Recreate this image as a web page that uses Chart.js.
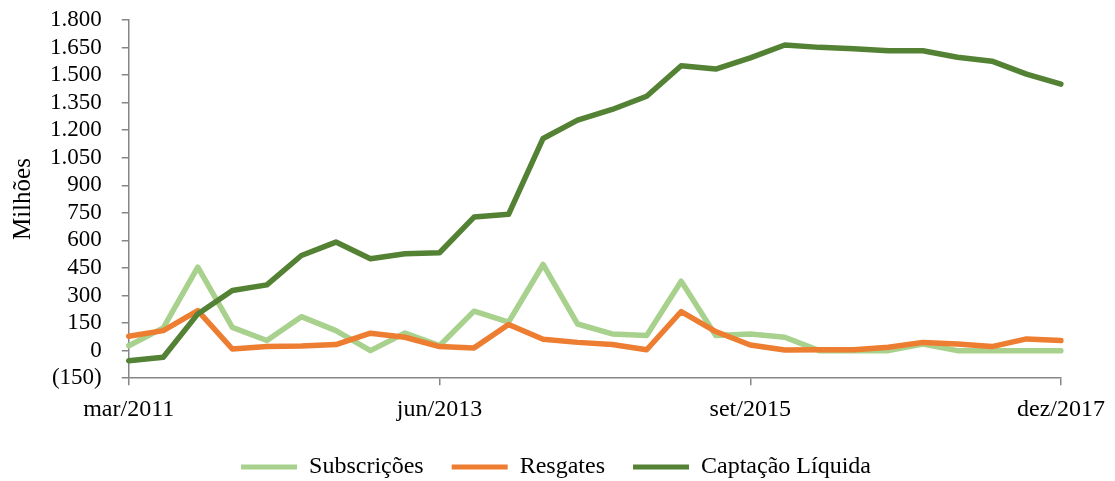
<!DOCTYPE html>
<html>
<head>
<meta charset="utf-8">
<script src="https://cdn.jsdelivr.net/npm/chart.js@4/dist/chart.umd.min.js"></script>
<style>
  html, body { margin: 0; padding: 0; background: #fff; }
  #wrap { width: 1115px; height: 481px; }
</style>
</head>
<body>
<div id="wrap"><canvas id="fundChart"></canvas></div>
<script>
// quarterly, mar/2011 .. dez/2017 (millions)
let quarters = [
    "mar/2011", "jun/2011", "set/2011", "dez/2011",
    "mar/2012", "jun/2012", "set/2012", "dez/2012",
    "mar/2013", "jun/2013", "set/2013", "dez/2013",
    "mar/2014", "jun/2014", "set/2014", "dez/2014",
    "mar/2015", "jun/2015", "set/2015", "dez/2015",
    "mar/2016", "jun/2016", "set/2016", "dez/2016",
    "mar/2017", "jun/2017", "set/2017", "dez/2017"
];
let shownLabels = ["mar/2011", "jun/2013", "set/2015", "dez/2017"];

let subscricoes = [27, 124, 455, 127, 55, 185, 109, 0, 96, 27, 215, 155, 469, 145,
                   91, 82, 378, 82, 91, 73, 0, 0, 0, 36, 0, 0, 0, 0];
let resgates = [78, 109, 218, 9, 22, 25, 33, 95, 73, 22, 15, 142, 62, 45,
                33, 5, 213, 104, 31, 4, 5, 5, 18, 45, 36, 22, 64, 55];
let captacao = [-55, -36, 200, 327, 358, 518, 591, 500, 527, 533, 727, 742, 1155, 1255,
                1313, 1385, 1551, 1533, 1594, 1664, 1651, 1644, 1633, 1633, 1597, 1576, 1505, 1451];

let yTicks = { min: -150, max: 1800, step: 150 };

const axisGray = '#868686';
const serif = "'Liberation Serif', 'DejaVu Serif', serif";

function fmtNumber(v) {
    if (v < 0) return '(' + fmtNumber(-v) + ')';
    return String(v).replace(/\B(?=(\d{3})+(?!\d))/g, '.');
}

Chart.defaults.font.family = serif;
Chart.defaults.color = '#000';

async function displayChart() {
    new Chart(
        document.getElementById('fundChart'),
        {
            type: 'line',
            data: {
                labels: quarters,
                datasets: [
                    {
                        label: 'Subscrições',
                        data: subscricoes,
                        borderColor: '#A9D18E',
                        backgroundColor: '#A9D18E',
                        order: 3,
                    },
                    {
                        label: 'Resgates',
                        data: resgates,
                        borderColor: '#ED7D31',
                        backgroundColor: '#ED7D31',
                        order: 2,
                    },
                    {
                        label: 'Captação Líquida',
                        data: captacao,
                        borderColor: '#548235',
                        backgroundColor: '#548235',
                        order: 1,
                    }
                ]
            },
            options: {
                responsive: true,
                maintainAspectRatio: false,
                animation: false,
                elements: {
                    line: { borderWidth: 5.5, tension: 0, borderJoinStyle: 'round', borderCapStyle: 'round' },
                    point: { radius: 0 },
                },
                layout: {
                    autoPadding: false,
                    padding: { top: 6, right: 3, bottom: -8, left: 0 }
                },
                plugins: {
                    tooltip: { enabled: false },
                    legend: {
                        position: 'bottom',
                        labels: {
                            boxWidth: 56,
                            boxHeight: 5,
                            padding: 28,
                            font: { size: 24 },
                            generateLabels: (chart) => {
                                let items = Chart.defaults.plugins.legend.labels.generateLabels(chart);
                                items.sort((a, b) => a.datasetIndex - b.datasetIndex);
                                items.forEach(it => { it.lineWidth = 0; });
                                return items;
                            }
                        }
                    },
                },
                scales: {
                    x: {
                        offset: false,
                        border: { display: true, color: axisGray, width: 1.5 },
                        grid: {
                            drawOnChartArea: false,
                            tickLength: 7,
                            lineWidth: 1.5,
                            color: (ctx) => (ctx.index % 9 === 0 ? axisGray : 'rgba(0,0,0,0)'),
                        },
                        ticks: {
                            autoSkip: false,
                            maxRotation: 0,
                            padding: 10,
                            font: { size: 24 },
                            callback: function (val, i) {
                                let lab = quarters[i];
                                return shownLabels.includes(lab) ? lab : '';
                            }
                        },
                        afterFit: (scale) => { scale.height -= 7; },
                    },
                    y: {
                        min: yTicks.min,
                        max: yTicks.max,
                        border: { display: true, color: axisGray, width: 1.5 },
                        grid: {
                            drawOnChartArea: false,
                            tickLength: 7,
                            lineWidth: 1.5,
                            color: axisGray,
                        },
                        ticks: {
                            autoSkip: false,
                            stepSize: yTicks.step,
                            padding: 20,
                            font: { size: 23 },
                            callback: (v) => fmtNumber(v),
                        },
                        afterFit: (scale) => { scale.paddingTop = 20; },
                        title: {
                            display: true,
                            text: 'Milhões',
                            font: { size: 25 },
                            padding: { top: 8, bottom: -8 },
                        }
                    }
                },
            },
        }
    );
}
displayChart();
</script>
</body>
</html>
